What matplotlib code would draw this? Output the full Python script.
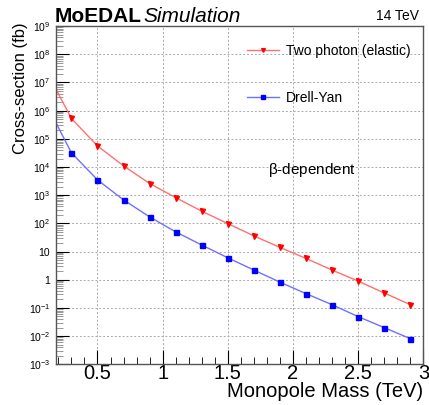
import numpy as np
import matplotlib
matplotlib.use("Agg")
from matplotlib import pyplot as plt
from matplotlib.ticker import FixedLocator, FuncFormatter, LogLocator, NullFormatter

plt.rcParams['font.family'] = ['Liberation Sans', 'DejaVu Sans']
plt.rcParams['mathtext.fontset'] = 'custom'
plt.rcParams['mathtext.rm'] = 'Liberation Sans'
plt.rcParams['mathtext.it'] = 'Liberation Sans:italic'

# monopole mass (TeV); first point lies left of the frame
mass = [0.1, 0.3, 0.5, 0.7, 0.9, 1.1, 1.3, 1.5, 1.7, 1.9, 2.1, 2.3, 2.5, 2.7, 2.9]
two_photon = [3.0e7, 5.3e5, 5.6e4, 1.1e4, 2.6e3, 8.2e2, 2.7e2, 98, 36, 14, 5.7, 2.2, 0.89, 0.34, 0.13]
drell_yan = [2.0e6, 3.2e4, 3.5e3, 6.8e2, 1.7e2, 50, 17, 6.0, 2.2, 0.82, 0.32, 0.13, 0.049, 0.020, 0.0081]

fig = plt.figure(figsize=(4.29, 4.05), dpi=100)
ax = fig.add_axes([0.130, 0.1005, 0.857, 0.835])

ax.plot(mass, two_photon, color='#ff7070', lw=1.0, marker='v', ms=3.6,
        mfc='red', mec='red', label='Two photon (elastic)')
ax.plot(mass, drell_yan, color='#7070ff', lw=1.0, marker='s', ms=3.6,
        mfc='blue', mec='blue', label='Drell-Yan')

ax.set_yscale('log')
ax.set_xlim(0.18, 3.0)
ax.set_ylim(1e-3, 1e9)

ax.xaxis.set_major_locator(FixedLocator([0.5, 1.0, 1.5, 2.0, 2.5, 3.0]))
ax.xaxis.set_minor_locator(FixedLocator(np.arange(0.2, 3.0, 0.1)))
ax.xaxis.set_major_formatter(FuncFormatter(lambda v, p: '%g' % v))

ax.yaxis.set_major_locator(LogLocator(base=10, numticks=20))
ax.yaxis.set_minor_locator(LogLocator(base=10, subs=np.arange(2, 10), numticks=20))
ax.yaxis.set_minor_formatter(NullFormatter())


def ylab(v, p):
    e = int(round(np.log10(v)))
    if e == 0:
        return '1'
    if e == 1:
        return '10'
    return r'$\mathregular{10^{%d}}$' % e


ax.yaxis.set_major_formatter(FuncFormatter(ylab))

ax.tick_params(axis='both', which='both', direction='in', top=False, right=False, color='black')
ax.tick_params(axis='x', which='major', length=10, labelsize=14.5, pad=0)
ax.tick_params(axis='x', which='minor', length=5)
ax.tick_params(axis='y', which='major', length=9, labelsize=7.5, pad=4)
ax.tick_params(axis='y', which='minor', length=5, color='#888888')

ax.grid(True, which='major', color='#aaaaaa', ls=(0, (2, 2)), lw=0.7)
for s in ax.spines.values():
    s.set_linewidth(1.0)
    s.set_color('#555555')

ax.set_xlabel('Monopole Mass (TeV)', fontsize=14.5, loc='right', labelpad=-1)
ax.set_ylabel('Cross-section (fb)', fontsize=12, loc='top')
ax.yaxis.set_label_coords(-0.076, 1.01)

fig.text(55 / 429, 1 - 22 / 405, 'MoEDAL', fontsize=15, fontweight='bold', va='baseline')
fig.text(143 / 429, 1 - 22 / 405, 'Simulation', fontsize=15, style='italic', va='baseline')
fig.text(419 / 429, 1 - 19.5 / 405, '14 TeV', fontsize=10, ha='right', va='baseline')
ax.text(0.697, 0.575, r'$\mathregular{\beta}$-dependent', transform=ax.transAxes, fontsize=11,
        ha='center', va='center')

ax.legend(loc='upper left', bbox_to_anchor=(246.7 / 429, 1 - 43.5 / 405), bbox_transform=fig.transFigure,
          frameon=False, fontsize=10, handlelength=2.3, handletextpad=0.5, labelspacing=2.4,
          borderpad=0, borderaxespad=0, numpoints=1, markerscale=0.75)

fig.savefig('out.png', dpi=100)
